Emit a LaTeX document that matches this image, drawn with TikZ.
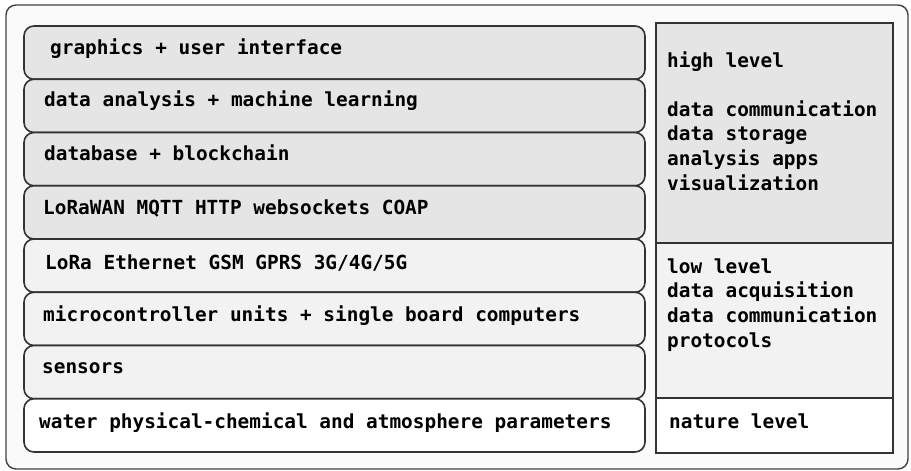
\documentclass[tikz,border=0pt]{standalone}
\usepackage{fontspec}
\setmonofont{DejaVu Sans Mono}
\usepackage{tikz}
\usetikzlibrary{positioning}

\begin{document}
\begin{tikzpicture}[x=1pt,y=-1pt]
\tikzstyle{frame}=[rectangle,rounded corners=10pt,draw=black!75,fill=black!2,line width=1.4pt,
minimum width=902pt,minimum height=464pt,inner sep=0pt,outer sep=0pt,anchor=north west]
\tikzstyle{layer}=[rectangle,rounded corners=10pt,draw=black!80,line width=1.6pt,
minimum width=621pt,minimum height=53.25pt,inner sep=0pt,outer sep=0pt]
\tikzstyle{level}=[rectangle,draw=black!80,line width=1.6pt,
minimum width=237pt,inner sep=0pt,outer sep=0pt]
\tikzstyle{tag}=[anchor=base west,inner sep=0pt,align=left,
font=\ttfamily\bfseries\fontsize{19.4}{24.6}\selectfont]
\useasboundingbox (0,0) rectangle (911,471);
\node[frame] (outer) at (6,5) {};
% layer stack
\node[layer,fill=black!10,anchor=north west] (gui) at (24,26) {};
\node[layer,fill=black!10,below=0pt of gui] (analysis) {};
\node[layer,fill=black!10,below=0pt of analysis] (database) {};
\node[layer,fill=black!10,below=0pt of database] (protocols) {};
\node[layer,fill=black!5,below=0pt of protocols] (network) {};
\node[layer,fill=black!5,below=0pt of network] (mcu) {};
\node[layer,fill=black!5,below=0pt of mcu] (sensors) {};
\node[layer,fill=white,below=0pt of sensors] (nature) {};
\node[tag] (gui text) at ([shift={(26,28)}]gui.north west) {graphics + user interface};
\node[tag] (analysis text) at ([shift={(20,27)}]analysis.north west) {data analysis + machine learning};
\node[tag] (database text) at ([shift={(20,28)}]database.north west) {database + blockchain};
\node[tag] (protocols text) at ([shift={(19,29)}]protocols.north west) {LoRaWAN MQTT HTTP websockets COAP};
\node[tag] (network text) at ([shift={(21,30)}]network.north west) {LoRa Ethernet GSM GPRS 3G/4G/5G};
\node[tag] (mcu text) at ([shift={(19,29)}]mcu.north west) {microcontroller units + single board computers};
\node[tag] (sensors text) at ([shift={(18,28)}]sensors.north west) {sensors};
\node[tag] (nature text) at ([shift={(15,30)}]nature.north west) {water physical-chemical and atmosphere parameters};
% levels (text placed by the baseline of its last line)
\node[level,fill=black!10,minimum height=220pt,anchor=north west] (high) at (656,23) {};
\node[level,fill=black!5,minimum height=155pt,below=0pt of high] (low) {};
\node[level,fill=white,minimum height=55pt,below=0pt of low] (ground) {};
\node[tag] (high text) at ([shift={(11,167)}]high.north west)
{high level\\[24.6pt]data communication\\data storage\\analysis apps\\visualization};
\node[tag] (low text) at ([shift={(11,104)}]low.north west)
{low level\\data acquisition\\data communication\\protocols};
\node[tag] (ground text) at ([shift={(13,30)}]ground.north west) {nature level};
\end{tikzpicture}
\end{document}
